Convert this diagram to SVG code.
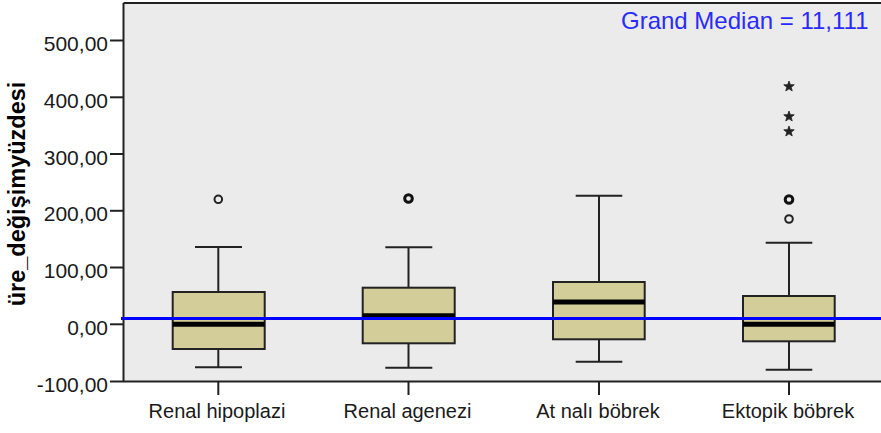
<svg xmlns="http://www.w3.org/2000/svg" xmlns:xlink="http://www.w3.org/1999/xlink" width="881" height="433" viewBox="0 0 881 433">
  <style>
    .tick { font-family: "Liberation Sans", Arial, sans-serif; font-size: 21px; fill: #1a1a1a; text-anchor: end; }
    .cat { font-family: "Liberation Sans", Arial, sans-serif; font-size: 20px; fill: #1a1a1a; text-anchor: middle; }
    .ylab { font-family: "Liberation Sans", Arial, sans-serif; font-size: 23.5px; font-weight: bold; fill: #000; text-anchor: middle; }
    .gm { font-family: "Liberation Sans", Arial, sans-serif; font-size: 24px; fill: #2a2aff; text-anchor: end; }
    .axis { stroke: #222; stroke-width: 2; fill: none; }
    .box { fill: #D3CE99; stroke: #222; stroke-width: 2; }
    .whisk { stroke: #222; stroke-width: 2; fill: none; }
    .med { stroke: #000; stroke-width: 5; }
    .out { fill: none; stroke: #222; stroke-width: 2; }
    .outb { fill: none; stroke: #111; stroke-width: 3; }
    .star { fill: #222; stroke: #222; stroke-width: 0.8; }
  </style>
  <defs>
    <path id="starShape" d="M0,-5.5 L1.35,-1.86 L5.23,-1.7 L2.19,0.71 L3.23,4.45 L0,2.3 L-3.23,4.45 L-2.19,0.71 L-5.23,-1.7 L-1.35,-1.86 Z"/>
  </defs>

  <rect x="0" y="0" width="881" height="433" fill="#ffffff"/>
  <rect id="plot-area" x="123.5" y="3" width="758" height="378.5" fill="#EBEBEB"/>

  <g id="axes">
    <line class="axis" x1="123.5" y1="3" x2="881" y2="3"/>
    <line class="axis" x1="123.5" y1="3" x2="123.5" y2="381.5"/>
    <line class="axis" x1="110" y1="381.5" x2="881" y2="381.5"/>
    <line class="axis" x1="110" y1="40.5" x2="123.5" y2="40.5"/>
    <line class="axis" x1="110" y1="97.3" x2="123.5" y2="97.3"/>
    <line class="axis" x1="110" y1="154" x2="123.5" y2="154"/>
    <line class="axis" x1="110" y1="210.8" x2="123.5" y2="210.8"/>
    <line class="axis" x1="110" y1="267.5" x2="123.5" y2="267.5"/>
    <line class="axis" x1="110" y1="324.3" x2="123.5" y2="324.3"/>
    <line class="axis" x1="218.3" y1="381.5" x2="218.3" y2="395"/>
    <line class="axis" x1="408.5" y1="381.5" x2="408.5" y2="395"/>
    <line class="axis" x1="599" y1="381.5" x2="599" y2="395"/>
    <line class="axis" x1="789" y1="381.5" x2="789" y2="395"/>
    <text class="tick" x="108" y="51">500,00</text>
    <text class="tick" x="108" y="107.8">400,00</text>
    <text class="tick" x="108" y="164.5">300,00</text>
    <text class="tick" x="108" y="221.3">200,00</text>
    <text class="tick" x="108" y="278">100,00</text>
    <text class="tick" x="108" y="334.8">0,00</text>
    <text class="tick" x="108" y="391.5">-100,00</text>
    <text class="cat" x="217" y="417.5">Renal hipoplazi</text>
    <text class="cat" x="407.5" y="417.5">Renal agenezi</text>
    <text class="cat" x="598" y="417.5">At nalı böbrek</text>
    <text class="cat" x="788" y="417.5">Ektopik böbrek</text>
    <text class="ylab" transform="translate(25,194) rotate(-90)">üre_değişimyüzdesi</text>
  </g>

  <g id="box-renal-hipoplazi">
    <line class="whisk" x1="218.3" y1="247" x2="218.3" y2="292"/>
    <line class="whisk" x1="218.3" y1="349" x2="218.3" y2="367.3"/>
    <line class="whisk" x1="195" y1="247" x2="242" y2="247"/>
    <line class="whisk" x1="195" y1="367.3" x2="242" y2="367.3"/>
    <rect class="box" x="172.7" y="292" width="92" height="57"/>
    <line class="med" x1="172.7" y1="324.3" x2="264.7" y2="324.3"/>
    <circle class="out" cx="218.3" cy="199.3" r="3.8"/>
  </g>

  <g id="box-renal-agenezi">
    <line class="whisk" x1="408.5" y1="247.3" x2="408.5" y2="287.7"/>
    <line class="whisk" x1="408.5" y1="343.3" x2="408.5" y2="367.7"/>
    <line class="whisk" x1="385.3" y1="247.3" x2="432.3" y2="247.3"/>
    <line class="whisk" x1="385.3" y1="367.7" x2="432.3" y2="367.7"/>
    <rect class="box" x="362.7" y="287.7" width="92" height="55.6"/>
    <line class="med" x1="362.7" y1="315.7" x2="454.7" y2="315.7"/>
    <circle class="outb" cx="408.5" cy="198.5" r="3.8"/>
  </g>

  <g id="box-at-nali-bobrek">
    <line class="whisk" x1="599" y1="195.7" x2="599" y2="282"/>
    <line class="whisk" x1="599" y1="339.3" x2="599" y2="361.7"/>
    <line class="whisk" x1="575.7" y1="195.7" x2="622.3" y2="195.7"/>
    <line class="whisk" x1="575.7" y1="361.7" x2="622.3" y2="361.7"/>
    <rect class="box" x="553" y="282" width="91.7" height="57.3"/>
    <line class="med" x1="553" y1="302" x2="644.7" y2="302"/>
  </g>

  <g id="box-ektopik-bobrek">
    <line class="whisk" x1="789" y1="242.7" x2="789" y2="296"/>
    <line class="whisk" x1="789" y1="341.3" x2="789" y2="369.7"/>
    <line class="whisk" x1="765.7" y1="242.7" x2="812.3" y2="242.7"/>
    <line class="whisk" x1="765.7" y1="369.7" x2="812.3" y2="369.7"/>
    <rect class="box" x="743" y="296" width="91.7" height="45.3"/>
    <line class="med" x1="743" y1="324.2" x2="834.7" y2="324.2"/>
    <circle class="outb" cx="789" cy="199.5" r="3.8"/>
    <circle class="out" cx="789" cy="219" r="3.8"/>
    <use xlink:href="#starShape" class="star" x="789" y="86.5"/>
    <use xlink:href="#starShape" class="star" x="789" y="116.5"/>
    <use xlink:href="#starShape" class="star" x="789" y="131.5"/>
  </g>

  <g id="grand-median">
    <line x1="121" y1="318.5" x2="881" y2="318.5" stroke="#0000ff" stroke-width="3"/>
    <text class="gm" x="868.5" y="28.5">Grand Median = 11,111</text>
  </g>
</svg>
